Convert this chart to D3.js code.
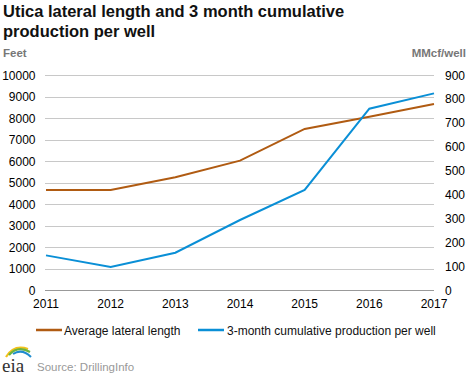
<!DOCTYPE html>
<html><head><meta charset="utf-8">
<script src="https://cdn.jsdelivr.net/npm/d3@7"></script>
<style>body{margin:0;background:#fff;font-family:"Liberation Sans",Arial,sans-serif;}</style>
</head><body><svg id="c" width="468" height="378"></svg>
<script>
const years = [2011, 2012, 2013, 2014, 2015, 2016, 2017];
const lateralLength = [4650, 4650, 5240, 6015, 7490, 8060, 8650];
const production = [145, 96, 156, 293, 419, 759, 823];
const leftTicks = [0,1000,2000,3000,4000,5000,6000,7000,8000,9000,10000];
const rightTicks = [0,100,200,300,400,500,600,700,800,900];
const seriesNames = ["Average lateral length", "3-month cumulative production per well"];
const colors = ["#b05b12", "#0a8fd6"];

const svg = d3.select("#c");
const x = d3.scalePoint().domain(years).range([46, 434]);
const yL = d3.scaleLinear().domain([0, 10000]).range([290, 75]);
const yR = d3.scaleLinear().domain([0, 900]).range([290, 75]);

svg.append("text").attr("x", 3).attr("y", 17).attr("font-size", 16.5).attr("font-weight", "bold").attr("fill", "#111").text("Utica lateral length and 3 month cumulative");
svg.append("text").attr("x", 3).attr("y", 37).attr("font-size", 16.5).attr("font-weight", "bold").attr("fill", "#111").text("production per well");
svg.append("text").attr("x", 3).attr("y", 57).attr("font-size", 11.5).attr("font-weight", "bold").attr("fill", "#777").text("Feet");
svg.append("text").attr("x", 466).attr("y", 57).attr("text-anchor", "end").attr("font-size", 11.5).attr("font-weight", "bold").attr("fill", "#777").text("MMcf/well");

// gridlines
svg.append("g").selectAll("line").data(leftTicks).join("line")
  .attr("x1", 45).attr("x2", 434)
  .attr("y1", d => Math.round(yL(d)) + 0.5).attr("y2", d => Math.round(yL(d)) + 0.5)
  .attr("stroke", d => d === 0 ? "#999" : "#c8c8c8").attr("stroke-width", 1);

const fs = 12;
svg.append("g").selectAll("text").data(leftTicks).join("text")
  .attr("x", 35.5).attr("y", d => yL(d) + 4.5).attr("text-anchor", "end")
  .attr("font-size", fs).attr("fill", "#000").text(d => d);
svg.append("g").selectAll("text").data(rightTicks).join("text")
  .attr("x", 445).attr("y", d => yR(d) + 4.5).attr("text-anchor", "start")
  .attr("font-size", fs).attr("fill", "#000").text(d => d);
svg.append("g").selectAll("text").data(years).join("text")
  .attr("x", d => x(d)).attr("y", 308).attr("text-anchor", "middle")
  .attr("font-size", fs).attr("fill", "#000").text(d => d);

const lineL = d3.line().x((d, i) => x(years[i])).y(d => yL(d));
const lineR = d3.line().x((d, i) => x(years[i])).y(d => yR(d));
svg.append("path").attr("d", lineL(lateralLength)).attr("fill", "none").attr("stroke", colors[0]).attr("stroke-width", 2);
svg.append("path").attr("d", lineR(production)).attr("fill", "none").attr("stroke", colors[1]).attr("stroke-width", 2);

// legend
const leg = [{x: 36, tx: 64}, {x: 198, tx: 227}];
leg.forEach((l, i) => {
  svg.append("line").attr("x1", l.x).attr("x2", l.x + 26).attr("y1", 330).attr("y2", 330).attr("stroke", colors[i]).attr("stroke-width", 2.5);
  svg.append("text").attr("x", l.tx).attr("y", 334.5).attr("font-size", fs).attr("fill", "#111").text(seriesNames[i]);
});

// eia logo
const lg = svg.append("g");
lg.append("path").attr("d", "M6,357 Q14,344 28,349").attr("fill", "none").attr("stroke", "#f2c21b").attr("stroke-width", 2.2);
lg.append("path").attr("d", "M9,355 Q18,345 30,352").attr("fill", "none").attr("stroke", "#6cb33f").attr("stroke-width", 2.2);
lg.append("path").attr("d", "M13,354 Q22,348 31,357").attr("fill", "none").attr("stroke", "#1f8ccf").attr("stroke-width", 2);
lg.append("text").attr("x", 2).attr("y", 372).attr("font-family", "'Liberation Serif',serif").attr("font-size", 19).attr("fill", "#333").text("eia");
svg.append("text").attr("x", 37).attr("y", 371).attr("font-size", 11.5).attr("fill", "#999").text("Source: DrillingInfo");
</script></body></html>
